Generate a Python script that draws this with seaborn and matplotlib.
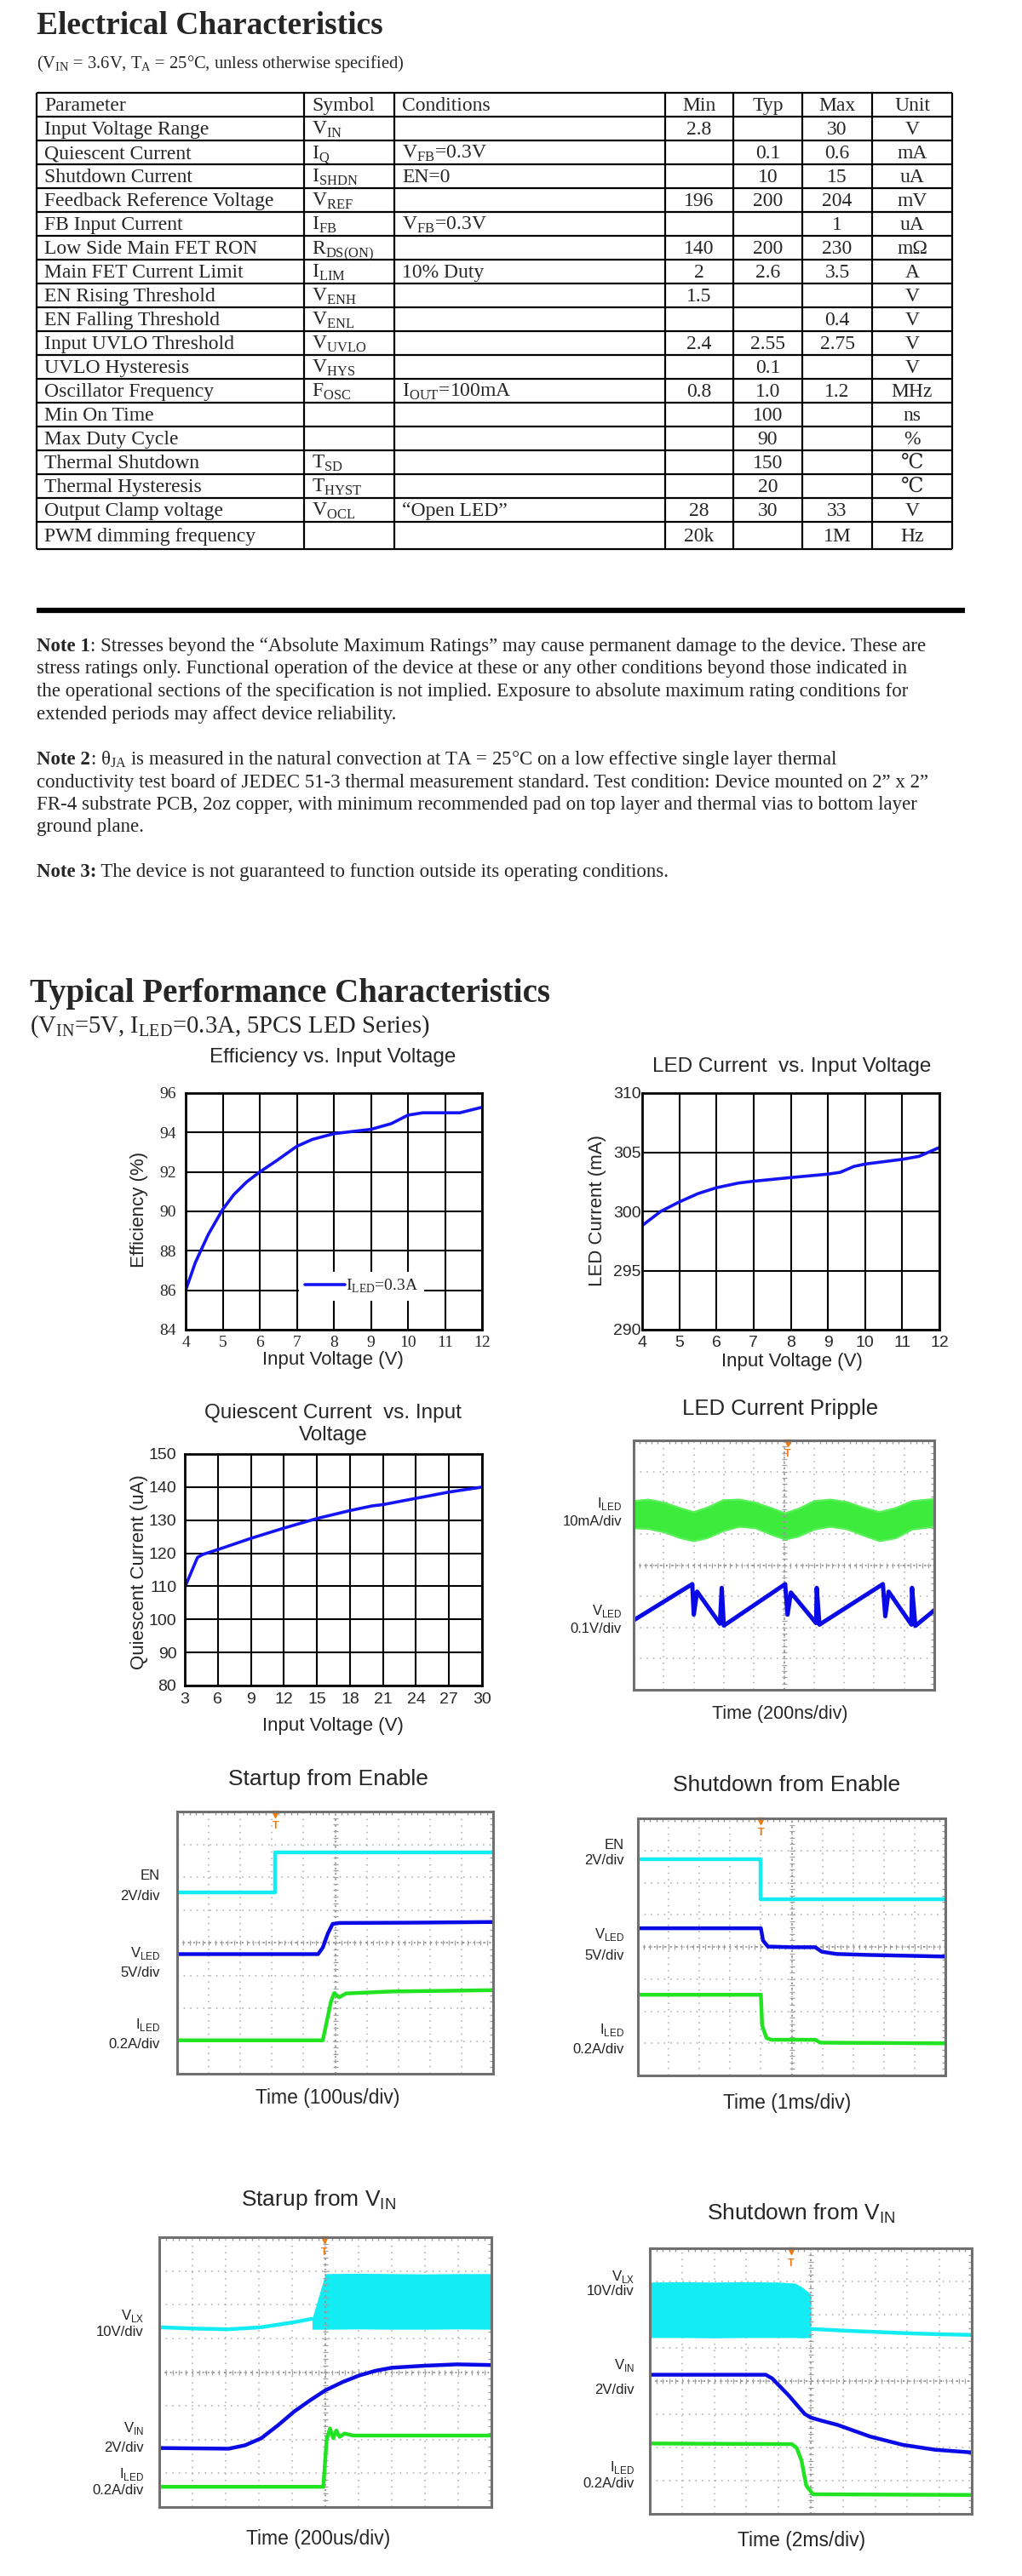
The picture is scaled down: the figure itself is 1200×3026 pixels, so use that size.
import numpy as np
import matplotlib
matplotlib.use("Agg")
import matplotlib.pyplot as plt
import seaborn as sns

sns.set_theme(style="white")
plt.rcParams["font.family"] = ["Liberation Sans", "DejaVu Sans"]
plt.rcParams["mathtext.fontset"] = "custom"
plt.rcParams["mathtext.rm"] = "Liberation Serif"
plt.rcParams["mathtext.bf"] = "Liberation Serif:bold"
plt.rcParams["axes.unicode_minus"] = False

SERIF = ["Liberation Serif", "DejaVu Serif", "DejaVu Sans"]
SANS = ["Liberation Sans", "DejaVu Sans"]

# ---------------- electrical characteristics table
ec_header = ["Parameter", "Symbol", "Conditions", "Min", "Typ", "Max", "Unit"]
ec_param = ["Input Voltage Range", "Quiescent Current", "Shutdown Current",
            "Feedback Reference Voltage", "FB Input Current", "Low Side Main FET RON",
            "Main FET Current Limit", "EN Rising Threshold", "EN Falling Threshold",
            "Input UVLO Threshold", "UVLO Hysteresis", "Oscillator Frequency",
            "Min On Time", "Max Duty Cycle", "Thermal Shutdown", "Thermal Hysteresis",
            "Output Clamp voltage", "PWM dimming frequency"]
ec_symbol = ["V$_\\mathregular{IN}$", "I$_\\mathregular{Q}$", "I$_\\mathregular{SHDN}$",
             "V$_\\mathregular{REF}$", "I$_\\mathregular{FB}$", "R$_\\mathregular{DS(ON)}$",
             "I$_\\mathregular{LIM}$", "V$_\\mathregular{ENH}$", "V$_\\mathregular{ENL}$",
             "V$_\\mathregular{UVLO}$", "V$_\\mathregular{HYS}$", "F$_\\mathregular{OSC}$",
             "", "", "T$_\\mathregular{SD}$", "T$_\\mathregular{HYST}$", "V$_\\mathregular{OCL}$", ""]
ec_cond = ["", "V$_\\mathregular{FB}$=0.3V", "EN=0", "", "V$_\\mathregular{FB}$=0.3V", "",
           "10% Duty", "", "", "", "", "I$_\\mathregular{OUT}$=100mA", "", "", "", "",
           "\u201cOpen LED\u201d", ""]
ec_min = ["2.8", "", "", "196", "", "140", "2", "1.5", "", "2.4", "", "0.8", "", "", "", "", "28", "20k"]
ec_typ = ["", "0.1", "10", "200", "", "200", "2.6", "", "", "2.55", "0.1", "1.0", "100", "90", "150", "20", "30", ""]
ec_max = ["30", "0.6", "15", "204", "1", "230", "3.5", "", "0.4", "2.75", "", "1.2", "", "", "", "", "33", "1M"]
ec_unit = ["V", "mA", "uA", "mV", "uA", "m\u03a9", "A", "V", "V", "V", "V", "MHz", "ns", "%",
           "\u2103", "\u2103", "V", "Hz"]

# notes: (bold prefix, rest of first line), then continuation lines
note1 = [("Note 1", ": Stresses beyond the \u201cAbsolute Maximum Ratings\u201d may cause permanent damage to the device. These are"),
         "stress ratings only. Functional operation of the device at these or any other conditions beyond those indicated in",
         "the operational sections of the specification is not implied. Exposure to absolute maximum rating conditions for",
         "extended periods may affect device reliability."]
note2 = [("Note 2", ": \u03b8$_\\mathregular{JA}$ is measured in the natural convection at TA = 25\u00b0C on a low effective single layer thermal"),
         "conductivity test board of JEDEC 51-3 thermal measurement standard. Test condition: Device mounted on 2\u201d x 2\u201d",
         "FR-4 substrate PCB, 2oz copper, with minimum recommended pad on top layer and thermal vias to bottom layer",
         "ground plane."]
note3 = [("Note 3:", " The device is not guaranteed to function outside its operating conditions.")]

# ---------------- typical performance curves
eff_vin = [4.0, 4.26, 4.61, 5.0, 5.3, 5.65, 6.0, 6.46, 7.0, 7.42, 8.0, 9.0, 9.55, 10.0, 10.4, 11.0, 11.4, 12.0]
eff_pct = [86.0, 87.4, 88.83, 90.1, 90.85, 91.5, 92.0, 92.58, 93.3, 93.65, 93.94, 94.16, 94.45, 94.88, 95.0, 95.0, 95.0, 95.28]

led_vin = [4.0, 4.5, 5.0, 5.5, 6.0, 6.6, 7.0, 8.0, 9.0, 9.33, 9.7, 10.0, 11.0, 11.45, 12.0]
led_ma = [298.8, 300.0, 300.8, 301.5, 302.0, 302.4, 302.55, 302.86, 303.15, 303.3, 303.8, 304.0, 304.4, 304.65, 305.4]

iq_vin = [3.0, 4.15, 4.6, 6.0, 9.0, 12.0, 15.0, 18.0, 20.0, 21.0, 24.0, 27.0, 30.0]
iq_ua = [109.7, 118.7, 119.6, 121.1, 124.5, 127.6, 130.5, 132.9, 134.3, 134.7, 136.6, 138.5, 140.0]

# ---------------- scope captures (x in divisions 0..10, y in divisions 0..8)
rip_iled_x = [0, 0.49, 1.03, 1.57, 2.0, 2.44, 2.98, 3.52, 4.06, 4.6, 5.04, 5.47, 6.01, 6.55, 7.1, 7.64, 8.18, 8.72, 9.26, 10]
rip_iled_hi = [6.05, 6.1, 6.0, 5.82, 5.7, 5.84, 6.08, 6.1, 6.0, 5.82, 5.66, 5.8, 6.05, 6.1, 6.02, 5.84, 5.7, 5.83, 6.05, 6.12]
rip_iled_lo = [5.18, 5.16, 5.05, 4.86, 4.77, 4.86, 5.09, 5.23, 5.18, 4.97, 4.82, 4.91, 5.14, 5.23, 5.15, 4.95, 4.77, 4.86, 5.14, 5.23]
rip_vled_x = [0, 1.95, 2.0, 2.11, 2.87, 2.93, 3.0, 5.04, 5.12, 5.23, 6.07, 6.09, 6.18, 8.29, 8.37, 8.48, 9.24, 9.26, 9.37, 10.0]
rip_vled_y = [2.23, 3.39, 2.41, 3.15, 2.12, 3.27, 2.06, 3.39, 2.41, 3.12, 2.14, 3.27, 2.09, 3.39, 2.36, 3.15, 2.09, 3.27, 2.05, 2.55]
rip_trig = 5.13

sue_en_x = [0, 3.11, 3.11, 10]
sue_en_y = [5.52, 5.52, 6.75, 6.75]
sue_vled_x = [0, 4.46, 4.61, 4.77, 4.92, 5.13, 7.5, 10]
sue_vled_y = [3.65, 3.65, 3.85, 4.28, 4.57, 4.60, 4.61, 4.63]
sue_iled_x = [0, 4.61, 4.72, 4.87, 4.97, 5.13, 5.34, 6.79, 10]
sue_iled_y = [1.02, 1.02, 1.52, 2.21, 2.46, 2.33, 2.45, 2.51, 2.55]
sue_trig = 3.11

sde_en_x = [0, 4.0, 4.0, 10]
sde_en_y = [6.73, 6.73, 5.48, 5.48]
sde_vled_x = [0, 4.0, 4.07, 4.23, 5.0, 5.77, 5.98, 6.46, 7.51, 10]
sde_vled_y = [4.58, 4.58, 4.20, 4.01, 3.99, 3.99, 3.85, 3.78, 3.75, 3.70]
sde_iled_x = [0, 4.0, 4.04, 4.18, 4.34, 5.77, 5.93, 10]
sde_iled_y = [2.51, 2.51, 1.56, 1.17, 1.11, 1.11, 1.02, 1.0]
sde_trig = 4.0

suv_vlx_x = [0, 1.11, 2.09, 3.07, 4.06, 4.6]
suv_vlx_y = [5.33, 5.29, 5.27, 5.33, 5.48, 5.58]
suv_band_x = [4.6, 4.8, 5.0, 6.0, 7.0, 8.0, 9.0, 10.0]
suv_band_hi = [5.58, 6.25, 6.92, 6.93, 6.92, 6.91, 6.92, 6.92]
suv_band_lo = [5.27, 5.27, 5.27, 5.28, 5.27, 5.27, 5.28, 5.27]
suv_vin_x = [0, 2.09, 2.58, 3.07, 3.57, 4.06, 4.55, 5.0, 5.53, 6.02, 6.51, 7.0, 7.99, 8.97, 10]
suv_vin_y = [1.75, 1.73, 1.83, 2.04, 2.42, 2.83, 3.17, 3.46, 3.71, 3.90, 4.04, 4.13, 4.19, 4.23, 4.21]
suv_iled_x = [0, 4.94, 5.04, 5.14, 5.24, 5.33, 5.43, 5.58, 5.83, 10]
suv_iled_y = [0.6, 0.6, 2.0, 2.33, 2.04, 2.27, 2.08, 2.18, 2.12, 2.12]
suv_trig = 4.97

sdv_band_x = [0, 1, 2, 3, 4, 4.5, 4.7, 4.9, 5.0]
sdv_band_hi = [6.98, 6.99, 6.98, 6.99, 6.98, 6.95, 6.85, 6.70, 6.62]
sdv_band_lo = [5.31, 5.31, 5.30, 5.31, 5.31, 5.31, 5.30, 5.31, 5.31]
sdv_vlx_x = [5.0, 6, 7, 8, 9, 10]
sdv_vlx_y = [5.57, 5.52, 5.48, 5.44, 5.41, 5.39]
sdv_vin_x = [0, 3.6, 3.8, 4.31, 4.81, 5.0, 5.32, 5.83, 6.84, 7.85, 8.87, 10]
sdv_vin_y = [4.19, 4.19, 4.08, 3.57, 3.01, 2.90, 2.81, 2.68, 2.33, 2.08, 1.93, 1.85]
sdv_iled_x = [0, 4.41, 4.56, 4.71, 4.86, 5.07, 10]
sdv_iled_y = [2.12, 2.10, 1.99, 1.61, 0.85, 0.59, 0.57]
sdv_trig = 4.39

CYAN = "#14ECF4"
BLUE = "#0A0AE6"
GREEN = "#22E322"
CURVE = "#1414F5"

W, H = 1200, 3026
fig = plt.figure(figsize=(W / 100, H / 100), dpi=100)
fig.patch.set_facecolor("white")
page = fig.add_axes([0, 0, 1, 1])
page.set_xlim(0, W)
page.set_ylim(H, 0)
page.axis("off")
renderer = fig.canvas.get_renderer()


def box(l, t, r, b):
    return fig.add_axes([l / W, 1 - b / H, (r - l) / W, (b - t) / H])


# ---------------- page 1: table + notes
page.text(43, 40, "Electrical Characteristics", family=SERIF, fontsize=27, fontweight="bold", va="baseline")
page.text(43, 80, "(V$_\\mathregular{IN}$ = 3.6V, T$_\\mathregular{A}$ = 25\u00b0C, unless otherwise specified)",
          family=SERIF, fontsize=14.8, va="baseline")

col_x = [43, 357, 463, 781, 861, 942, 1024, 1118]
row_h = [28] * 18 + [32]
row_y = np.concatenate([[109], 109 + np.cumsum(row_h)])
page.hlines(row_y, col_x[0], col_x[-1], color="black", lw=1.6)
page.vlines(col_x, row_y[0], row_y[-1], color="black", lw=1.6)

rows = [ec_header] + [list(r) for r in zip(ec_param, ec_symbol, ec_cond, ec_min, ec_typ, ec_max, ec_unit)]
for i, row in enumerate(rows):
    base = row_y[i] + row_h[i] / 2 + 7
    for c, txt in enumerate(row):
        if not txt:
            continue
        if c < 3:
            page.text(col_x[c] + 9, base, txt, family=SERIF, fontsize=17, va="baseline", ha="left")
        else:
            page.text((col_x[c] + col_x[c + 1]) / 2, base, txt, family=SERIF, fontsize=17,
                      va="baseline", ha="center")

page.hlines(717, 43, 1133, color="black", lw=4.5)

for block, y0 in [(note1, 765), (note2, 898), (note3, 1030)]:
    for k, line in enumerate(block):
        y = y0 + k * 26.5
        if isinstance(line, tuple):
            t = page.text(43, y, line[0], family=SERIF, fontsize=16.5, fontweight="bold", va="baseline")
            w = t.get_window_extent(renderer).width
            page.text(43 + w, y, line[1], family=SERIF, fontsize=16.5, va="baseline")
        else:
            page.text(43, y, line, family=SERIF, fontsize=16.5, va="baseline")

# ---------------- typical performance header
page.text(35, 1177, "Typical Performance Characteristics", family=SERIF, fontsize=28, fontweight="bold", va="baseline")
page.text(35, 1213, "(V$_\\mathregular{IN}$=5V, I$_\\mathregular{LED}$=0.3A, 5PCS LED Series)",
          family=SERIF, fontsize=20.6, va="baseline")


def grid_axes(l, t, r, b):
    ax = box(l, t, r, b)
    ax.set_facecolor("white")
    ax.grid(True, color="black", lw=1.5)
    for s in ax.spines.values():
        s.set_color("black")
        s.set_linewidth(2)
    ax.tick_params(length=0)
    return ax


# Efficiency vs input voltage
ax = grid_axes(218, 1284, 566, 1562)
sns.lineplot(x=eff_vin, y=eff_pct, ax=ax, color=CURVE, lw=2.6, sort=False, estimator=None,
             label="I$_\\mathregular{LED}$=0.3A")
ax.set_xlim(4, 12)
ax.set_ylim(84, 96)
ax.set_xticks(range(4, 13))
ax.set_yticks(range(84, 97, 2))
ax.tick_params(axis="y", pad=8)
ax.tick_params(axis="x", pad=5)
for lab in ax.get_xticklabels() + ax.get_yticklabels():
    lab.set_family(SERIF)
    lab.set_fontsize(14)
ax.legend(loc="center", bbox_to_anchor=(0.594, 0.183), prop={"family": SERIF, "size": 14},
          frameon=True, fancybox=False, edgecolor="none", facecolor="white", framealpha=1,
          handlelength=2.4, handletextpad=0.1, borderpad=0.35)
page.text(391, 1242, "Efficiency vs. Input Voltage", fontsize=17.5, ha="center", va="center")
page.text(391, 1598, "Input Voltage (V)", fontsize=16, ha="center", va="center")
page.text(164, 1421, "Efficiency (%)", fontsize=16, ha="center", va="center", rotation=90)

# LED current vs input voltage
ax = grid_axes(754, 1284, 1103, 1562)
sns.lineplot(x=led_vin, y=led_ma, ax=ax, color=CURVE, lw=2.6, sort=False, estimator=None)
ax.set_xlim(4, 12)
ax.set_ylim(290, 310)
ax.set_xticks(range(4, 13))
ax.set_yticks(range(290, 311, 5))
ax.tick_params(axis="y", pad=1, labelsize=14)
ax.tick_params(axis="x", pad=5, labelsize=14)
page.text(930, 1253, "LED Current  vs. Input Voltage", fontsize=17.5, ha="center", va="center")
page.text(930, 1600, "Input Voltage (V)", fontsize=16, ha="center", va="center")
page.text(702, 1422, "LED Current (mA)", fontsize=16, ha="center", va="center", rotation=90)

# Quiescent current vs input voltage
ax = grid_axes(217, 1708, 566, 1980)
sns.lineplot(x=iq_vin, y=iq_ua, ax=ax, color=CURVE, lw=2.6, sort=False, estimator=None)
ax.set_xlim(3, 30)
ax.set_ylim(80, 150)
ax.set_xticks(range(3, 31, 3))
ax.set_yticks(range(80, 151, 10))
ax.tick_params(axis="y", pad=7, labelsize=14)
ax.tick_params(axis="x", pad=6, labelsize=14)
page.text(391, 1673, "Quiescent Current  vs. Input\nVoltage", fontsize=17.5, ha="center", va="center",
          linespacing=1.25)
page.text(391, 2028, "Input Voltage (V)", fontsize=16, ha="center", va="center")
page.text(163, 1847, "Quiescent Current (uA)", fontsize=16, ha="center", va="center", rotation=90)


def scope_axes(l, t, r, b, trig):
    ax = box(l, t, r, b)
    ax.set_facecolor("white")
    ax.set_xlim(0, 10)
    ax.set_ylim(0, 8)
    ax.set_xticks(range(11))
    ax.set_yticks(range(9))
    ax.set_xticks(np.arange(0, 10.01, 0.2), minor=True)
    ax.set_yticks(np.arange(0, 8.01, 0.2), minor=True)
    ax.tick_params(which="both", direction="in", top=True, right=True, labelbottom=False,
                   labelleft=False, color="#9a9a9a", width=1)
    ax.tick_params(which="major", length=0)
    ax.tick_params(which="minor", length=3)
    ax.grid(True, which="major", color="#a8a8a8", lw=1.1, ls=(0, (1, 4)))
    for s in ax.spines.values():
        s.set_color("#707070")
        s.set_linewidth(2.2)
    ax.axvline(5, color="#909090", lw=1.3, ls=(0, (1, 2.5)))
    ax.axhline(4, color="#909090", lw=1.3, ls=(0, (1, 2.5)))
    minor_y = np.arange(0, 8.01, 0.2)
    minor_x = np.arange(0, 10.01, 0.2)
    ax.plot(np.full_like(minor_y, 5), minor_y, ls="none", marker="_", ms=4, color="#a0a0a0", mew=0.9)
    ax.plot(minor_x, np.full_like(minor_x, 4), ls="none", marker="|", ms=4, color="#a0a0a0", mew=0.9)
    ax.plot([trig], [7.93], marker="v", ms=6, color="#F07A10", clip_on=False)
    ax.text(trig, 7.55, "T", color="#F07A10", fontsize=9, fontweight="bold", ha="center", va="center")
    return ax


def trace(ax, xs, ys, color, lw=3.2):
    sns.lineplot(x=xs, y=ys, ax=ax, color=color, lw=lw, sort=False, estimator=None)
    ax.set_xlabel("")
    ax.set_ylabel("")


def labels(items, right):
    for txt, y in items:
        page.text(right, y, txt, fontsize=12, ha="right", va="center", color="#222222")


# LED current ripple
ax = scope_axes(744, 1692, 1097, 1985, rip_trig)
ax.fill_between(rip_iled_x, rip_iled_lo, rip_iled_hi, color="#3CEB3C", lw=0)
trace(ax, rip_iled_x, rip_iled_hi, "#5AF05A", lw=1.6)
trace(ax, rip_iled_x, rip_iled_lo, "#5AF05A", lw=1.6)
trace(ax, rip_vled_x, rip_vled_y, BLUE, lw=3.6)
page.text(916, 1655, "LED Current Pripple", fontsize=18.5, ha="center", va="center")
page.text(916, 2013, "Time (200ns/div)", fontsize=15.5, ha="center", va="center")
labels([("I$_\\mathregular{LED}$", 1767), ("10mA/div", 1787),
        ("V$_\\mathregular{LED}$", 1892), ("0.1V/div", 1913)], 730)

# Startup from enable
ax = scope_axes(208, 2128, 579, 2436, sue_trig)
trace(ax, sue_en_x, sue_en_y, CYAN)
trace(ax, sue_vled_x, sue_vled_y, BLUE)
trace(ax, sue_iled_x, sue_iled_y, GREEN)
page.text(385, 2090, "Startup from Enable", fontsize=19, ha="center", va="center")
page.text(385, 2465, "Time (100us/div)", fontsize=16.5, ha="center", va="center")
labels([("EN", 2203), ("2V/div", 2228), ("V$_\\mathregular{LED}$", 2294), ("5V/div", 2318),
        ("I$_\\mathregular{LED}$", 2378), ("0.2A/div", 2401)], 188)

# Shutdown from enable
ax = scope_axes(749, 2136, 1110, 2438, sde_trig)
trace(ax, sde_en_x, sde_en_y, CYAN)
trace(ax, sde_vled_x, sde_vled_y, BLUE)
trace(ax, sde_iled_x, sde_iled_y, GREEN)
page.text(924, 2097, "Shutdown from Enable", fontsize=19, ha="center", va="center")
page.text(924, 2470, "Time (1ms/div)", fontsize=16.5, ha="center", va="center")
labels([("EN", 2167), ("2V/div", 2186), ("V$_\\mathregular{LED}$", 2272), ("5V/div", 2298),
        ("I$_\\mathregular{LED}$", 2385), ("0.2A/div", 2407)], 733)

# Startup from VIN
ax = scope_axes(187, 2628, 577, 2945, suv_trig)
ax.fill_between(suv_band_x, suv_band_lo, suv_band_hi, color=CYAN, lw=0)
trace(ax, suv_vlx_x, suv_vlx_y, CYAN)
trace(ax, suv_vin_x, suv_vin_y, BLUE)
trace(ax, suv_iled_x, suv_iled_y, GREEN)
page.text(374, 2584, "Starup from V$_\\mathregular{IN}$", fontsize=19, ha="center", va="center")
page.text(374, 2982, "Time (200us/div)", fontsize=16.5, ha="center", va="center")
labels([("V$_\\mathregular{LX}$", 2720), ("10V/div", 2739), ("V$_\\mathregular{IN}$", 2853),
        ("2V/div", 2876), ("I$_\\mathregular{LED}$", 2906), ("0.2A/div", 2926)], 169)

# Shutdown from VIN
ax = scope_axes(763, 2641, 1141, 2953, sdv_trig)
ax.fill_between(sdv_band_x, sdv_band_lo, sdv_band_hi, color=CYAN, lw=0)
trace(ax, sdv_vlx_x, sdv_vlx_y, CYAN)
trace(ax, sdv_vin_x, sdv_vin_y, BLUE)
trace(ax, sdv_iled_x, sdv_iled_y, GREEN)
page.text(941, 2600, "Shutdown from V$_\\mathregular{IN}$", fontsize=19, ha="center", va="center")
page.text(941, 2984, "Time (2ms/div)", fontsize=16.5, ha="center", va="center")
labels([("V$_\\mathregular{LX}$", 2674), ("10V/div", 2692), ("V$_\\mathregular{IN}$", 2778),
        ("2V/div", 2807), ("I$_\\mathregular{LED}$", 2898), ("0.2A/div", 2917)], 745)

fig.savefig("out.png", dpi=100, facecolor="white")
